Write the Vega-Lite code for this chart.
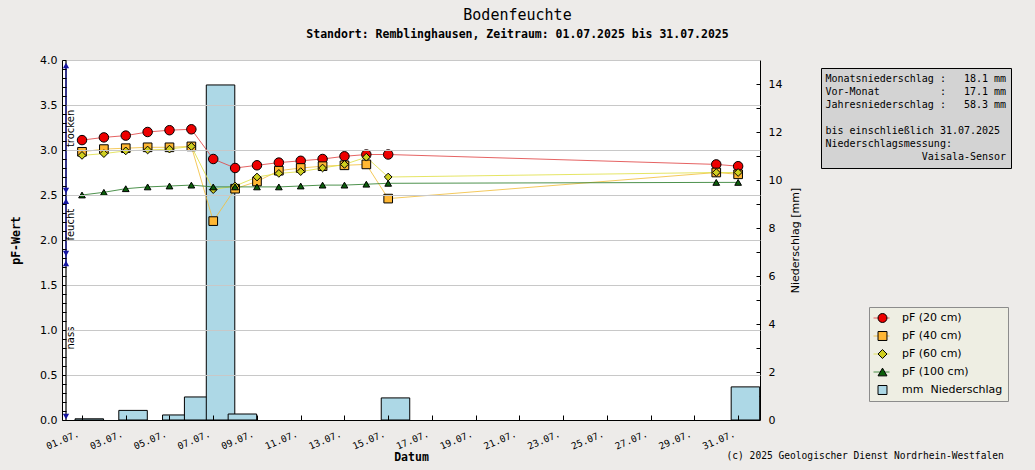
{
  "$schema": "https://vega.github.io/schema/vega-lite/v6.json",
  "width": 698,
  "height": 360,
  "autosize": {"type": "none"},
  "padding": {"left": 62, "top": 60, "right": 275, "bottom": 50},
  "background": "#EDEBE9",
  "config": {
    "view": {"fill": "white", "stroke": null},
    "axis": {
      "domainColor": "black",
      "tickColor": "black",
      "labelColor": "black",
      "titleColor": "black",
      "labelFlush": false,
      "labelOverlap": false,
      "labelBound": false
    }
  },
  "title": {
    "text": "Bodenfeuchte",
    "subtitle": "Standort: Remblinghausen, Zeitraum: 01.07.2025 bis 31.07.2025",
    "anchor": "middle",
    "dx": 106.5,
    "font": "DejaVu Sans Mono",
    "fontSize": 15,
    "fontWeight": "normal",
    "color": "black",
    "subtitleFont": "DejaVu Sans Mono",
    "subtitleFontSize": 11.5,
    "subtitleFontWeight": "bold",
    "subtitleColor": "black",
    "subtitlePadding": 6,
    "offset": 14
  },
  "datasets": {
    "soil": [
      {"day": 1, "series": "pF (20 cm)", "pf": 3.11},
      {"day": 2, "series": "pF (20 cm)", "pf": 3.14},
      {"day": 3, "series": "pF (20 cm)", "pf": 3.16},
      {"day": 4, "series": "pF (20 cm)", "pf": 3.20},
      {"day": 5, "series": "pF (20 cm)", "pf": 3.22},
      {"day": 6, "series": "pF (20 cm)", "pf": 3.23},
      {"day": 7, "series": "pF (20 cm)", "pf": 2.90},
      {"day": 8, "series": "pF (20 cm)", "pf": 2.80},
      {"day": 9, "series": "pF (20 cm)", "pf": 2.83},
      {"day": 10, "series": "pF (20 cm)", "pf": 2.86},
      {"day": 11, "series": "pF (20 cm)", "pf": 2.88},
      {"day": 12, "series": "pF (20 cm)", "pf": 2.90},
      {"day": 13, "series": "pF (20 cm)", "pf": 2.93},
      {"day": 14, "series": "pF (20 cm)", "pf": 2.95},
      {"day": 15, "series": "pF (20 cm)", "pf": 2.95},
      {"day": 30, "series": "pF (20 cm)", "pf": 2.84},
      {"day": 31, "series": "pF (20 cm)", "pf": 2.82},
      {"day": 1, "series": "pF (40 cm)", "pf": 2.98},
      {"day": 2, "series": "pF (40 cm)", "pf": 3.01},
      {"day": 3, "series": "pF (40 cm)", "pf": 3.02},
      {"day": 4, "series": "pF (40 cm)", "pf": 3.03},
      {"day": 5, "series": "pF (40 cm)", "pf": 3.03},
      {"day": 6, "series": "pF (40 cm)", "pf": 3.04},
      {"day": 7, "series": "pF (40 cm)", "pf": 2.21},
      {"day": 8, "series": "pF (40 cm)", "pf": 2.57},
      {"day": 9, "series": "pF (40 cm)", "pf": 2.65},
      {"day": 10, "series": "pF (40 cm)", "pf": 2.77},
      {"day": 11, "series": "pF (40 cm)", "pf": 2.80},
      {"day": 12, "series": "pF (40 cm)", "pf": 2.82},
      {"day": 13, "series": "pF (40 cm)", "pf": 2.83},
      {"day": 14, "series": "pF (40 cm)", "pf": 2.84},
      {"day": 15, "series": "pF (40 cm)", "pf": 2.46},
      {"day": 30, "series": "pF (40 cm)", "pf": 2.75},
      {"day": 31, "series": "pF (40 cm)", "pf": 2.73},
      {"day": 1, "series": "pF (60 cm)", "pf": 2.94},
      {"day": 2, "series": "pF (60 cm)", "pf": 2.96},
      {"day": 3, "series": "pF (60 cm)", "pf": 2.99},
      {"day": 4, "series": "pF (60 cm)", "pf": 3.00},
      {"day": 5, "series": "pF (60 cm)", "pf": 3.01},
      {"day": 6, "series": "pF (60 cm)", "pf": 3.04},
      {"day": 7, "series": "pF (60 cm)", "pf": 2.56},
      {"day": 8, "series": "pF (60 cm)", "pf": 2.60},
      {"day": 9, "series": "pF (60 cm)", "pf": 2.70},
      {"day": 10, "series": "pF (60 cm)", "pf": 2.74},
      {"day": 11, "series": "pF (60 cm)", "pf": 2.76},
      {"day": 12, "series": "pF (60 cm)", "pf": 2.80},
      {"day": 13, "series": "pF (60 cm)", "pf": 2.84},
      {"day": 14, "series": "pF (60 cm)", "pf": 2.92},
      {"day": 15, "series": "pF (60 cm)", "pf": 2.70},
      {"day": 30, "series": "pF (60 cm)", "pf": 2.75},
      {"day": 31, "series": "pF (60 cm)", "pf": 2.75},
      {"day": 1, "series": "pF (100 cm)", "pf": 2.50},
      {"day": 2, "series": "pF (100 cm)", "pf": 2.53},
      {"day": 3, "series": "pF (100 cm)", "pf": 2.57},
      {"day": 4, "series": "pF (100 cm)", "pf": 2.59},
      {"day": 5, "series": "pF (100 cm)", "pf": 2.60},
      {"day": 6, "series": "pF (100 cm)", "pf": 2.61},
      {"day": 7, "series": "pF (100 cm)", "pf": 2.59},
      {"day": 8, "series": "pF (100 cm)", "pf": 2.59},
      {"day": 9, "series": "pF (100 cm)", "pf": 2.59},
      {"day": 10, "series": "pF (100 cm)", "pf": 2.59},
      {"day": 11, "series": "pF (100 cm)", "pf": 2.60},
      {"day": 12, "series": "pF (100 cm)", "pf": 2.61},
      {"day": 13, "series": "pF (100 cm)", "pf": 2.61},
      {"day": 14, "series": "pF (100 cm)", "pf": 2.62},
      {"day": 15, "series": "pF (100 cm)", "pf": 2.63},
      {"day": 30, "series": "pF (100 cm)", "pf": 2.64},
      {"day": 31, "series": "pF (100 cm)", "pf": 2.64}
    ],
    "rain": [
      {"day": 1, "mm": 0.05},
      {"day": 3, "mm": 0.40},
      {"day": 5, "mm": 0.21},
      {"day": 6, "mm": 0.96},
      {"day": 7, "mm": 13.96},
      {"day": 8, "mm": 0.25},
      {"day": 15, "mm": 0.92},
      {"day": 31, "mm": 1.38}
    ],
    "zones": [
      {"zone": "trocken", "top": 3.94, "bottom": 2.55, "mid": 3.24},
      {"zone": "feucht", "top": 2.43, "bottom": 1.85, "mid": 2.17},
      {"zone": "nass", "top": 1.74, "bottom": 0.04, "mid": 0.91}
    ],
    "scaleBar": [
      {"part": "ladder", "from": 0, "to": 4},
      {"part": "range", "from": 1.74, "to": 3.94}
    ],
    "info": [
      {"line": "Monatsniederschlag :\u00a0\u00a0 18.1 mm"},
      {"line": "Vor-Monat\u00a0\u00a0\u00a0\u00a0\u00a0\u00a0\u00a0\u00a0\u00a0 :\u00a0\u00a0 17.1 mm"},
      {"line": "Jahresniederschlag :\u00a0\u00a0 58.3 mm"},
      {"line": "\u00a0"},
      {"line": "bis einschließlich 31.07.2025"},
      {"line": "Niederschlagsmessung:"},
      {"line": "\u200b\u00a0\u00a0\u00a0\u00a0\u00a0\u00a0\u00a0\u00a0\u00a0\u00a0\u00a0\u00a0\u00a0\u00a0\u00a0\u00a0Vaisala-Sensor"}
    ]
  },
  "layer": [
    {
      "data": {"name": "rain"},
      "mark": {"type": "bar", "width": 28.5, "xOffset": 7.3, "fill": "#ADD8E6", "stroke": "black", "strokeWidth": 1},
      "encoding": {
        "x": {
          "field": "day",
          "type": "quantitative",
          "scale": {"domain": [0.085, 32], "nice": false, "zero": false, "padding": 0},
          "axis": {
            "orient": "bottom",
            "domain": false,
            "ticks": false,
            "labels": false,
            "grid": false,
            "title": "(c) 2025 Geologischer Dienst Nordrhein-Westfalen",
            "titleX": 664,
            "titleY": 35,
            "titleAlign": "left",
            "titleAnchor": null,
            "titleBaseline": "middle",
            "titleFont": "DejaVu Sans Mono",
            "titleFontSize": 9.6,
            "titleFontWeight": "normal"
          }
        },
        "y": {
          "field": "mm",
          "type": "quantitative",
          "scale": {"domain": [0, 15], "nice": false},
          "axis": {
            "orient": "right",
            "values": [0, 1, 2, 3, 4, 5, 6, 7, 8, 9, 10, 11, 12, 13, 14, 15],
            "labelExpr": "datum.value % 2 == 0 ? datum.label : ''",
            "labelFont": "DejaVu Sans",
            "labelFontSize": 11,
            "labelPadding": 12,
            "tickSize": -4,
            "grid": false,
            "title": "Niederschlag [mm]",
            "titleFont": "DejaVu Sans",
            "titleFontSize": 11,
            "titleFontWeight": "normal",
            "titleAngle": 270,
            "titleBaseline": "top",
            "titlePadding": 8
          }
        }
      }
    },
    {
      "encoding": {
        "y": {
          "field": "pf",
          "type": "quantitative",
          "scale": {"domain": [0, 4], "nice": false},
          "axis": {
            "orient": "left",
            "values": [0, 0.1, 0.2, 0.3, 0.4, 0.5, 0.6, 0.7, 0.8, 0.9, 1, 1.1, 1.2, 1.3, 1.4, 1.5, 1.6, 1.7, 1.8, 1.9, 2, 2.1, 2.2, 2.3, 2.4, 2.5, 2.6, 2.7, 2.8, 2.9, 3, 3.1, 3.2, 3.3, 3.4, 3.5, 3.6, 3.7, 3.8, 3.9, 4],
            "labelExpr": "round(datum.value * 10) % 5 == 0 ? format(datum.value, '.1f') : ''",
            "labelFont": "DejaVu Sans",
            "labelFontSize": 11,
            "labelPadding": 9,
            "tickSize": -4,
            "grid": true,
            "gridColor": "#C8C8C8",
            "gridOpacity": {"condition": {"test": "round(datum.value * 10) % 5 == 0", "value": 1}, "value": 0},
            "title": "pF-Wert",
            "titleFont": "DejaVu Sans Mono",
            "titleFontSize": 11.5,
            "titleFontWeight": "bold",
            "titlePadding": 18,
            "zindex": 1
          }
        }
      },
      "layer": [
        {
          "data": {"name": "scaleBar"},
          "mark": {"type": "rule", "strokeWidth": 1.2},
          "encoding": {
            "x": {"datum": 0.268, "type": "quantitative"},
            "y": {"field": "from", "type": "quantitative"},
            "y2": {"field": "to"},
            "color": {
              "condition": {"test": "datum.part == 'range'", "value": "#1515A0"},
              "value": "black"
            }
          }
        },
        {
          "data": {"name": "zones"},
          "mark": {"type": "point", "shape": "triangle-up", "filled": true, "color": "#1515A0", "size": 40, "opacity": 1},
          "encoding": {
            "x": {"datum": 0.268, "type": "quantitative"},
            "y": {"field": "top", "type": "quantitative"}
          }
        },
        {
          "data": {"name": "zones"},
          "mark": {"type": "point", "shape": "triangle-down", "filled": true, "color": "#1515A0", "size": 40, "opacity": 1},
          "encoding": {
            "x": {"datum": 0.268, "type": "quantitative"},
            "y": {"field": "bottom", "type": "quantitative"}
          }
        },
        {
          "data": {"name": "zones"},
          "mark": {"type": "text", "angle": 270, "align": "center", "baseline": "alphabetic", "font": "DejaVu Sans", "fontSize": 10, "color": "black"},
          "encoding": {
            "x": {"datum": 0.634, "type": "quantitative"},
            "y": {"field": "mid", "type": "quantitative"},
            "text": {"field": "zone", "type": "nominal"}
          }
        },
        {
          "data": {"name": "soil"},
          "mark": {"type": "line", "strokeWidth": 1, "opacity": 0.85},
          "encoding": {
            "x": {
              "field": "day",
              "type": "quantitative",
              "scale": {"domain": [0.085, 32], "nice": false, "zero": false, "padding": 0},
              "axis": {
                "orient": "bottom",
                "values": [1, 2, 3, 4, 5, 6, 7, 8, 9, 10, 11, 12, 13, 14, 15, 16, 17, 18, 19, 20, 21, 22, 23, 24, 25, 26, 27, 28, 29, 30, 31],
                "labelExpr": "(datum.value < 10 ? '0' : '') + datum.value + '.07.'",
                "labelAngle": -23,
                "labelAlign": "right",
                "labelBaseline": "middle",
                "labelFont": "DejaVu Sans Mono",
                "labelFontSize": 9.5,
                "labelOffset": -4,
                "labelPadding": 18,
                "labelOverlap": false,
                "labelSeparation": -100,
                "labelFlush": false,
                "labelBound": false,
                "tickSize": -5,
                "grid": false,
                "title": "Datum",
                "titleFont": "DejaVu Sans Mono",
                "titleFontSize": 11.5,
                "titleFontWeight": "bold",
                "titlePadding": 1,
                "zindex": 1
              }
            },
            "stroke": {
              "field": "series",
              "type": "nominal",
              "scale": {
                "domain": ["pF (20 cm)", "pF (40 cm)", "pF (60 cm)", "pF (100 cm)", "mm Niederschlag"],
                "range": ["#E04848", "#F2C040", "#E1E14A", "#2F7F2F", "transparent"]
              },
              "legend": {
                "title": null,
                "orient": "none",
                "legendX": 807,
                "legendY": 247,
                "padding": 4,
                "fillColor": "#EEEEE3",
                "strokeColor": "#8C8C8C",
                "clipHeight": 14,
                "rowPadding": 4,
                "symbolType": "stroke",
                "symbolSize": 256,
                "symbolStrokeWidth": 1,
                "symbolOffset": 0,
                "labelExpr": "''",
                "labelFontSize": 11,
                "labelOffset": 114,
                "zindex": 0
              }
            }
          }
        },
        {
          "data": {"name": "soil"},
          "mark": {"type": "point", "filled": true, "opacity": 1, "stroke": "black", "strokeWidth": 1},
          "encoding": {
            "x": {
              "field": "day",
              "type": "quantitative",
              "scale": {"domain": [0.085, 32], "nice": false, "zero": false, "padding": 0},
              "axis": {
                "orient": "bottom",
                "values": [1, 2, 3, 4, 5, 6, 7, 8, 9, 10, 11, 12, 13, 14, 15, 16, 17, 18, 19, 20, 21, 22, 23, 24, 25, 26, 27, 28, 29, 30, 31],
                "labelExpr": "(datum.value < 10 ? '0' : '') + datum.value + '.07.'",
                "labelAngle": -23,
                "labelAlign": "right",
                "labelBaseline": "middle",
                "labelFont": "DejaVu Sans Mono",
                "labelFontSize": 9.5,
                "labelOffset": -4,
                "labelPadding": 18,
                "labelOverlap": false,
                "labelSeparation": -100,
                "labelFlush": false,
                "labelBound": false,
                "tickSize": -5,
                "grid": false,
                "title": "Datum",
                "titleFont": "DejaVu Sans Mono",
                "titleFontSize": 11.5,
                "titleFontWeight": "bold",
                "titlePadding": 1,
                "zindex": 1
              }
            },
            "color": {
              "field": "series",
              "type": "nominal",
              "scale": {
                "domain": ["pF (20 cm)", "pF (40 cm)", "pF (60 cm)", "pF (100 cm)", "mm\u00a0 Niederschlag"],
                "range": ["#EE0000", "#FFB733", "#CFCF1F", "#0A5F0A", "#ADD8E6"]
              },
              "legend": {
                "title": null,
                "orient": "none",
                "legendX": 807,
                "legendY": 247,
                "padding": 4,
                "clipHeight": 14,
                "rowPadding": 4,
                "symbolSize": 80,
                "symbolStrokeColor": "black",
                "symbolStrokeWidth": 1,
                "symbolOffset": 4,
                "labelFont": "DejaVu Sans",
                "labelFontSize": 11,
                "labelColor": "black",
                "labelOffset": 14,
                "labelLimit": 200,
                "zindex": 1
              }
            },
            "shape": {
              "field": "series",
              "type": "nominal",
              "scale": {
                "domain": ["pF (20 cm)", "pF (40 cm)", "pF (60 cm)", "pF (100 cm)", "mm\u00a0 Niederschlag"],
                "range": ["circle", "square", "diamond", "triangle-up", "square"]
              }
            },
            "size": {
              "field": "series",
              "type": "ordinal",
              "scale": {
                "domain": ["pF (20 cm)", "pF (40 cm)", "pF (60 cm)", "pF (100 cm)"],
                "range": [90, 45, 80, 80]
              },
              "legend": null
            }
          }
        },
        {
          "data": {"name": "info"},
          "mark": {"type": "rule", "opacity": 0},
          "encoding": {
            "x": {"datum": 1, "type": "quantitative"},
            "y": {"datum": 1, "type": "quantitative"},
            "strokeDash": {
              "field": "line",
              "type": "nominal",
              "scale": {
                "domain": [
                  "Monatsniederschlag :\u00a0\u00a0 18.1 mm",
                  "Vor-Monat\u00a0\u00a0\u00a0\u00a0\u00a0\u00a0\u00a0\u00a0\u00a0 :\u00a0\u00a0 17.1 mm",
                  "Jahresniederschlag :\u00a0\u00a0 58.3 mm",
                  "\u00a0",
                  "bis einschließlich 31.07.2025",
                  "Niederschlagsmessung:",
                  "\u200b\u00a0\u00a0\u00a0\u00a0\u00a0\u00a0\u00a0\u00a0\u00a0\u00a0\u00a0\u00a0\u00a0\u00a0\u00a0\u00a0Vaisala-Sensor"
                ]
              },
              "legend": {
                "title": null,
                "orient": "none",
                "legendX": 759,
                "legendY": 8,
                "padding": 4.5,
                "fillColor": "#D3D3D3",
                "strokeColor": "black",
                "clipHeight": 12.5,
                "rowPadding": 0,
                "symbolSize": 0,
                "symbolOpacity": 0,
                "symbolOffset": 0,
                "labelOffset": -10,
                "labelFont": "DejaVu Sans Mono",
                "labelFontSize": 10,
                "labelColor": "black",
                "labelLimit": 300
              }
            }
          }
        }
      ]
    }
  ],
  "resolve": {"scale": {"y": "independent"}, "axis": {"x": "independent"}}
}
